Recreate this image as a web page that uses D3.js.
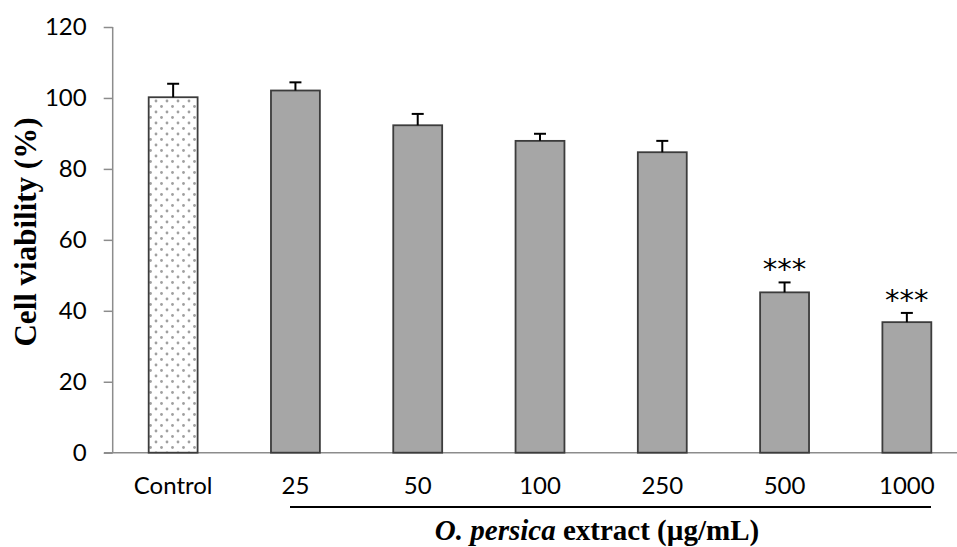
<!DOCTYPE html>
<html lang="en">
<head>
<meta charset="UTF-8">
<title>Cell viability</title>
<script src="https://d3js.org/d3.v7.min.js"></script>
<style>
  body { margin: 0; background: #fff; }
  .tick text { font-family: Lato, "Open Sans", sans-serif; font-size: 24px; fill: #000; }
  .title { font-family: "Liberation Serif", "DejaVu Serif", serif; font-weight: bold; fill: #000; }
</style>
</head>
<body>
<svg width="957" height="547"></svg>
<script>
// data
const groups = ["Control", "25", "50", "100", "250", "500", "1000"];
const viability = [100.2, 102.1, 92.3, 87.9, 84.7, 45.2, 36.8];
const errors = [3.8, 2.3, 3.2, 2.0, 3.2, 2.8, 2.6];
const marks = ["", "", "", "", "", "***", "***"];
const yTicks = [0, 20, 40, 60, 80, 100, 120];

const svg = d3.select("svg");

const x = d3.scaleBand()
    .domain(groups)
    .range([112, 968])
    .paddingInner(0.6)
    .paddingOuter(0.3);

const y = d3.scaleLinear()
    .domain([0, 120])
    .range([452.7, 27]);

// dotted pattern for control bar
const defs = svg.append("defs");
const pat = defs.append("pattern")
    .attr("id", "dots")
    .attr("patternUnits", "userSpaceOnUse")
    .attr("width", 11).attr("height", 11);
pat.append("rect").attr("width", 11).attr("height", 11).attr("fill", "#fff");
pat.selectAll("circle")
    .data([[2, 2], [7.5, 7.5]])
    .enter().append("circle")
    .attr("cx", d => d[0]).attr("cy", d => d[1])
    .attr("r", 1.4).attr("fill", "#a0a0a0");

// y axis
const yAxis = svg.append("g")
    .attr("transform", "translate(112.7,0)")
    .call(d3.axisLeft(y).tickValues(yTicks).tickSize(9).tickPadding(17));
yAxis.selectAll("path, line").attr("stroke", "#8c8c8c").attr("stroke-width", 1.5);
yAxis.select(".domain").attr("d", "M0," + y(120) + "V" + y(0));

// x axis
const xAxis = svg.append("g")
    .attr("transform", "translate(0," + y(0) + ")")
    .call(d3.axisBottom(x).tickSize(0).tickPadding(24));
xAxis.select(".domain")
    .attr("d", "M104,0H957")
    .attr("stroke", "#8c8c8c").attr("stroke-width", 1.5);

// bars
svg.append("g").selectAll("rect")
    .data(groups)
    .enter().append("rect")
    .attr("x", d => x(d))
    .attr("width", x.bandwidth())
    .attr("y", (d, i) => y(viability[i]))
    .attr("height", (d, i) => y(0) - y(viability[i]))
    .attr("fill", (d, i) => i === 0 ? "url(#dots)" : "#a6a6a6")
    .attr("stroke", "#3c3c3c")
    .attr("stroke-width", 1.8);

// error bars
const err = svg.append("g").attr("stroke", "#000").attr("stroke-width", 2);
groups.forEach((g, i) => {
  const cx = x(g) + x.bandwidth() / 2;
  err.append("line")
    .attr("x1", cx).attr("x2", cx)
    .attr("y1", y(viability[i])).attr("y2", y(viability[i] + errors[i]));
  err.append("line")
    .attr("x1", cx - 6).attr("x2", cx + 6)
    .attr("y1", y(viability[i] + errors[i])).attr("y2", y(viability[i] + errors[i]));
});

// significance stars
svg.append("g").selectAll("text")
    .data(groups)
    .enter().append("text")
    .attr("x", d => x(d) + x.bandwidth() / 2)
    .attr("y", (d, i) => y(viability[i] + errors[i]) - 3)
    .attr("text-anchor", "middle")
    .attr("font-family", "DejaVu Sans, sans-serif")
    .attr("font-size", 29)
    .text((d, i) => marks[i]);

// line under the extract groups
svg.append("line")
    .attr("x1", 290).attr("x2", 931)
    .attr("y1", 507).attr("y2", 507)
    .attr("stroke", "#000").attr("stroke-width", 1.8);

// axis titles
const xt = svg.append("text")
    .attr("class", "title")
    .attr("x", 597).attr("y", 540)
    .attr("text-anchor", "middle")
    .attr("font-size", 29);
xt.append("tspan").attr("font-style", "italic").text("O. persica");
xt.append("tspan").text(" extract (µg/mL)");

svg.append("text")
    .attr("class", "title")
    .attr("transform", "translate(36,232) rotate(-90)")
    .attr("text-anchor", "middle")
    .attr("font-size", 31)
    .text("Cell viability (%)");
</script>
</body>
</html>
